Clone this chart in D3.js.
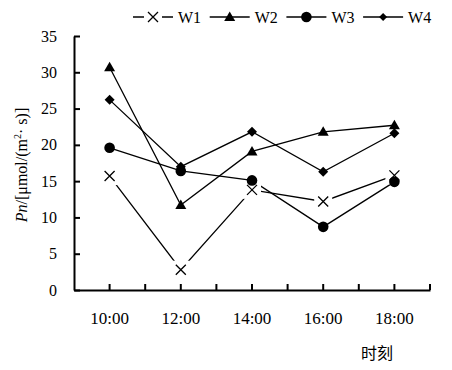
<!DOCTYPE html>
<html>
<head>
<meta charset="utf-8">
<script src="https://cdn.jsdelivr.net/npm/d3@7"></script>
<style>
  body { margin: 0; background: #fff; }
  svg text { font-family: 'Liberation Serif', 'Times New Roman', Times, serif; }
  svg text.cjk { font-family: 'Noto Sans CJK SC', sans-serif; }
</style>
</head>
<body>
<div id="chart"></div>
<script>
// Data
const times = ['10:00', '12:00', '14:00', '16:00', '18:00'];
const w1 = [15.7, 2.8, 13.8, 12.2, 15.8];
const w2 = [30.7, 11.7, 19.1, 21.8, 22.7];
const w3 = [19.6, 16.4, 15.1, 8.7, 14.9];
const w4 = [26.2, 17.0, 21.8, 16.3, 21.6];
const yTicks = [0, 5, 10, 15, 20, 25, 30, 35];

const series = [
  { name: 'W1', values: w1, marker: 'cross' },
  { name: 'W2', values: w2, marker: 'triangle' },
  { name: 'W3', values: w3, marker: 'circle' },
  { name: 'W4', values: w4, marker: 'diamond' }
];

const width = 452;
const height = 370;
const plotLeft = 74, plotRight = 430, plotTop = 36, plotBottom = 290;

const svg = d3.select('#chart')
  .append('svg')
  .attr('width', width)
  .attr('height', height);

// Scales
const x = d3.scaleBand().domain(times).range([plotLeft, plotRight]).padding(0);
const y = d3.scaleLinear().domain([0, 35]).range([plotBottom, plotTop]);
const cx = t => x(t) + x.bandwidth() / 2;

// Y axis
const yAxis = svg.append('g')
  .attr('transform', `translate(${plotLeft},0)`)
  .call(d3.axisLeft(y).tickValues(yTicks).tickSizeInner(-6).tickSizeOuter(0).tickPadding(17));
yAxis.attr('font-family', null);
yAxis.select('.domain').attr('stroke', '#000').attr('stroke-width', 2);
yAxis.selectAll('.tick line').attr('stroke', '#000').attr('stroke-width', 2);
yAxis.selectAll('.tick text')
  .attr('font-size', 16)
  .attr('fill', '#000');

// X axis
const xAxis = svg.append('g')
  .attr('transform', `translate(0,${plotBottom})`)
  .call(d3.axisBottom(x).tickSizeInner(-6).tickSizeOuter(0));
xAxis.attr('font-family', null);
xAxis.select('.domain').attr('stroke', '#000').attr('stroke-width', 2);
xAxis.selectAll('.tick line').attr('stroke', '#000').attr('stroke-width', 2);
xAxis.selectAll('.tick text')
  .attr('font-size', 17)
  .attr('fill', '#000')
  .attr('y', 34)
  .attr('dy', 0);

// boundary ticks between categories
xAxis.selectAll('.bound')
  .data(times)
  .enter()
  .append('line')
  .attr('class', 'bound')
  .attr('x1', d => x(d) + x.bandwidth())
  .attr('x2', d => x(d) + x.bandwidth())
  .attr('y1', 0)
  .attr('y2', -6)
  .attr('stroke', '#000')
  .attr('stroke-width', 2);

// Axis titles
const yTitle = svg.append('text')
  .attr('transform', 'translate(27,165) rotate(-90)')
  .attr('text-anchor', 'middle')
  .attr('font-size', 16);
yTitle.append('tspan').attr('font-style', 'italic').text('Pn');
yTitle.append('tspan').text('/[μmol/(m');
yTitle.append('tspan').attr('font-size', 10).attr('dy', -6).text('2');
yTitle.append('tspan').attr('dy', 6).text('· s)]');

svg.append('text')
  .attr('class', 'cjk')
  .attr('x', 377)
  .attr('y', 359)
  .attr('text-anchor', 'middle')
  .attr('font-size', 16)
  .text('时刻');

// Marker drawing
function drawMarker(g, type, scale = 1) {
  if (type === 'cross') {
    const h = 5 * scale;
    g.append('rect')
      .attr('x', -9).attr('y', -9).attr('width', 18).attr('height', 18)
      .attr('fill', '#fff');
    g.append('path')
      .attr('d', `M${-h},${-h}L${h},${h}M${-h},${h}L${h},${-h}`)
      .attr('stroke', '#000')
      .attr('stroke-width', 1.3)
      .attr('fill', 'none');
  } else if (type === 'triangle') {
    g.append('path')
      .attr('d', `M0,${-5.5 * scale}L${5.5 * scale},${4 * scale}L${-5.5 * scale},${4 * scale}Z`)
      .attr('fill', '#000');
  } else if (type === 'circle') {
    g.append('circle').attr('r', 5.3 * scale).attr('fill', '#000');
  } else if (type === 'diamond') {
    const h = 5 * scale;
    g.append('path')
      .attr('d', `M0,${-h}L${h},0L0,${h}L${-h},0Z`)
      .attr('fill', '#000');
  }
}

// Lines
const line = d3.line()
  .x((d, i) => cx(times[i]))
  .y(d => y(d));

svg.append('g')
  .selectAll('path')
  .data(series)
  .enter()
  .append('path')
  .attr('d', d => line(d.values))
  .attr('fill', 'none')
  .attr('stroke', '#000')
  .attr('stroke-width', 1.3);

// Markers
series.forEach(s => {
  s.values.forEach((v, i) => {
    const g = svg.append('g').attr('transform', `translate(${cx(times[i])},${y(v)})`);
    drawMarker(g, s.marker);
  });
});

// Legend
const legend = svg.append('g').attr('transform', 'translate(133,17)');
series.forEach((s, i) => {
  const g = legend.append('g').attr('transform', `translate(${i * 76.7},0)`);
  g.append('line')
    .attr('x1', 0).attr('x2', 40)
    .attr('y1', 0).attr('y2', 0)
    .attr('stroke', '#000')
    .attr('stroke-width', 1.5);
  const m = g.append('g').attr('transform', 'translate(20,0)');
  drawMarker(m, s.marker, s.marker === 'diamond' ? 0.8 : 1);
  g.append('text')
    .attr('x', 45)
    .attr('y', 5.5)
    .attr('font-size', 16)
    .text(s.name);
});
</script>
</body>
</html>
